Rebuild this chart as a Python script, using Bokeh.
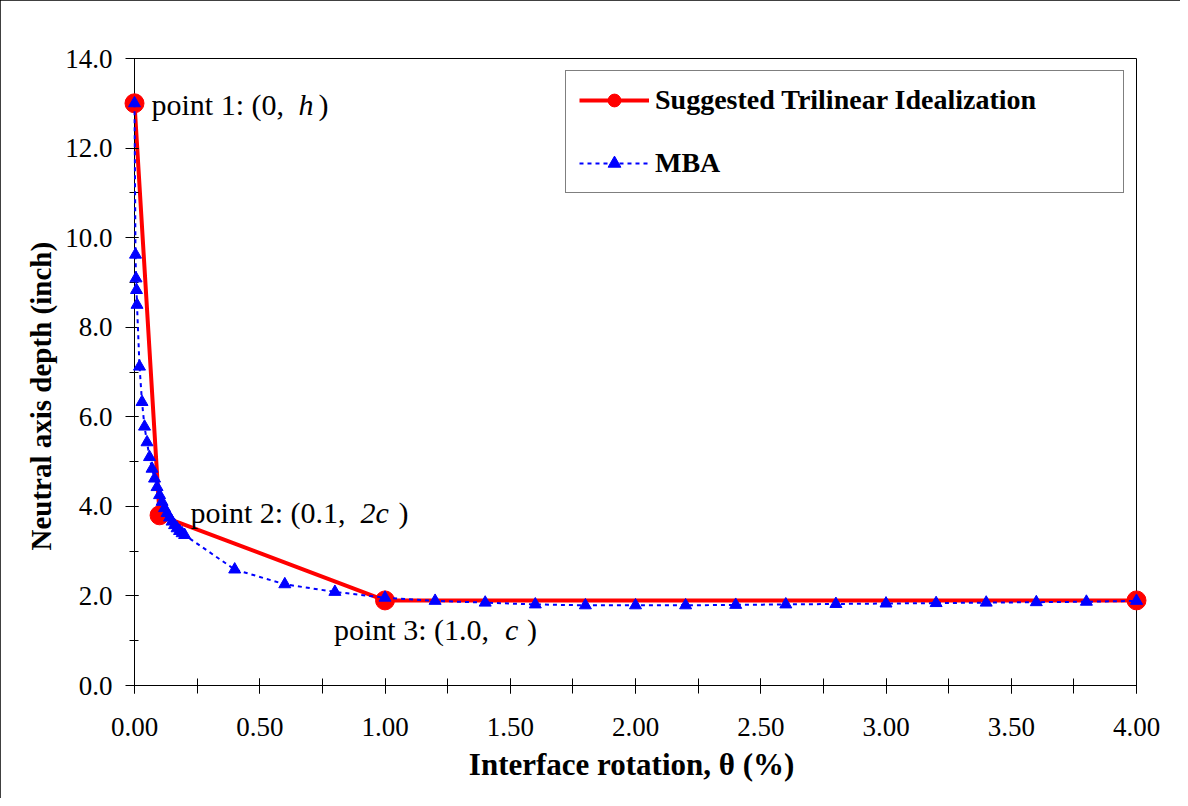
from bokeh.plotting import figure
from bokeh.models import (FixedTicker, NumeralTickFormatter, Range1d, ColumnDataSource,
                          Legend, LegendItem, Title)
from bokeh.core.properties import value
from bokeh.embed import file_html
from bokeh.resources import INLINE

# ---------------- data ----------------
tri_x = [0.0, 0.1, 1.0, 4.0]
tri_y = [13.0, 3.8, 1.9, 1.9]

mba_x = [0.0, 0.004, 0.006, 0.008, 0.01,
         0.02, 0.03, 0.04, 0.05, 0.06, 0.07, 0.08, 0.09, 0.10,
         0.11, 0.12, 0.13, 0.14, 0.15, 0.16, 0.17, 0.18, 0.19, 0.20,
         0.4, 0.6, 0.8, 1.0, 1.2, 1.4, 1.6, 1.8, 2.0, 2.2, 2.4, 2.6,
         2.8, 3.0, 3.2, 3.4, 3.6, 3.8, 4.0]
mba_y = [13.0, 9.62, 9.09, 8.83, 8.50,
         7.12, 6.33, 5.78, 5.43, 5.10, 4.84, 4.62, 4.43, 4.25,
         4.10, 3.96, 3.85, 3.75, 3.66, 3.58, 3.51, 3.45, 3.40, 3.36,
         2.59, 2.26, 2.09, 1.96, 1.89, 1.85, 1.81, 1.79, 1.79, 1.79, 1.80, 1.81,
         1.82, 1.83, 1.84, 1.85, 1.86, 1.87, 1.89]

x_major = [0.0, 0.5, 1.0, 1.5, 2.0, 2.5, 3.0, 3.5, 4.0]
x_minor = [0.0, 0.25, 0.5, 0.75, 1.0, 1.25, 1.5, 1.75, 2.0, 2.25, 2.5, 2.75,
           3.0, 3.25, 3.5, 3.75, 4.0]
y_major = [0, 2, 4, 6, 8, 10, 12, 14]
y_minor = [0, 1, 2, 3, 4, 5, 6, 7, 8, 9, 10, 11, 12, 13, 14]

series_names = ["Suggested Trilinear Idealization", "MBA"]
x_title = "Interface rotation, \u03b8  (%)"
y_title = "Neutral axis depth (inch)"

ann_plain = ["point 1: (0, ", "point 2: (0.1, ", "point 3: (1.0, "]
ann_italic = ["h", "2c", "c"]
ann_close = [")", ")", ")"]

FONT = "Liberation Serif"

# ---------------- figure ----------------
p = figure(width=1180, height=798, output_backend="svg", toolbar_location=None,
           x_range=Range1d(0, 4), y_range=Range1d(0, 14),
           min_border_left=134, min_border_right=44,
           min_border_top=58, min_border_bottom=113,
           background_fill_color="white", border_fill_color="white")
p.styles = {"outline": "1px solid black", "outline-offset": "-1px"}
p.xgrid.visible = False
p.ygrid.visible = False
p.outline_line_color = "black"
p.outline_line_width = 1

# axes
for ax in (p.xaxis[0], p.yaxis[0]):
    ax.axis_line_color = "black"
    ax.major_tick_line_color = "black"
    ax.minor_tick_line_color = "black"
    ax.major_label_text_font = FONT
    ax.major_label_text_font_size = "27px"
    ax.major_label_text_color = "black"
    ax.axis_label_text_font = FONT
    ax.axis_label_text_font_style = "bold"
    ax.axis_label_text_color = "black"

xa = p.xaxis[0]
xa.ticker = FixedTicker(ticks=x_major, minor_ticks=x_minor)
xa.formatter = NumeralTickFormatter(format="0.00")
xa.major_tick_in = 7
xa.major_tick_out = 8
xa.minor_tick_in = 7
xa.minor_tick_out = 8
xa.major_label_standoff = 24
xa.axis_label = x_title
xa.axis_label_text_font_size = "31px"
xa.axis_label_standoff = 8

ya = p.yaxis[0]
ya.ticker = FixedTicker(ticks=y_major, minor_ticks=y_minor)
ya.formatter = NumeralTickFormatter(format="0.0")
ya.major_tick_in = 4
ya.major_tick_out = 9
ya.minor_tick_in = 4
ya.minor_tick_out = 5
ya.major_label_standoff = 13

ytitle = Title(text=y_title, align="left", offset=135, standoff=12,
               text_font=FONT, text_font_style="bold", text_font_size="29px",
               text_color="black")
p.add_layout(ytitle, "left")

# series
tri_src = ColumnDataSource(dict(x=tri_x, y=tri_y))
mba_src = ColumnDataSource(dict(x=mba_x, y=mba_y))

r_tl = p.line("x", "y", source=tri_src, line_color="#FF0000", line_width=4)
r_tp = p.scatter("x", "y", source=tri_src, marker="circle", size=19,
                 fill_color="#FF0000", line_color="#FF0000", level="overlay")
r_ml = p.line("x", "y", source=mba_src, line_color="#0000FF", line_width=2,
              line_dash="4 4", level="overlay")
r_mp = p.scatter("x", "y", source=mba_src, marker="triangle", size=12,
                 fill_color="#0000FF", line_color="#0000FF", level="overlay")

# annotations anchored at trilinear points
ann_x = tri_x[:3]
ann_y = tri_y[:3]
dy = [1, -3, 29]
plain_src = ColumnDataSource(dict(x=ann_x, y=ann_y, text=ann_plain,
                                  xo=[17, 31, -51], yo=dy))
ital_src = ColumnDataSource(dict(x=ann_x, y=ann_y, text=ann_italic,
                                 xo=[164, 201, 120], yo=dy))
close_src = ColumnDataSource(dict(x=ann_x, y=ann_y, text=ann_close,
                                  xo=[184, 239, 142], yo=dy))
for src, style in ((plain_src, "normal"), (ital_src, "italic"), (close_src, "normal")):
    p.text("x", "y", text="text", source=src, x_offset="xo", y_offset="yo",
           text_font=value(FONT), text_font_size="30px", text_font_style=style,
           text_color="black", text_baseline="middle", text_align="left")

# legend
legend = Legend(items=[LegendItem(label=series_names[0], renderers=[r_tl, r_tp]),
                       LegendItem(label=series_names[1], renderers=[r_ml, r_mp])],
                location="top_right", margin=12, padding=13, spacing=31,
                glyph_width=70, glyph_height=32, label_height=32, label_width=455,
                label_standoff=6, border_line_color="black", border_line_width=1,
                background_fill_color="white", background_fill_alpha=1.0,
                label_text_font=FONT, label_text_font_style="bold",
                label_text_font_size="28px", label_text_color="black")
p.add_layout(legend)

open("out.html", "w").write(file_html(p, INLINE))
